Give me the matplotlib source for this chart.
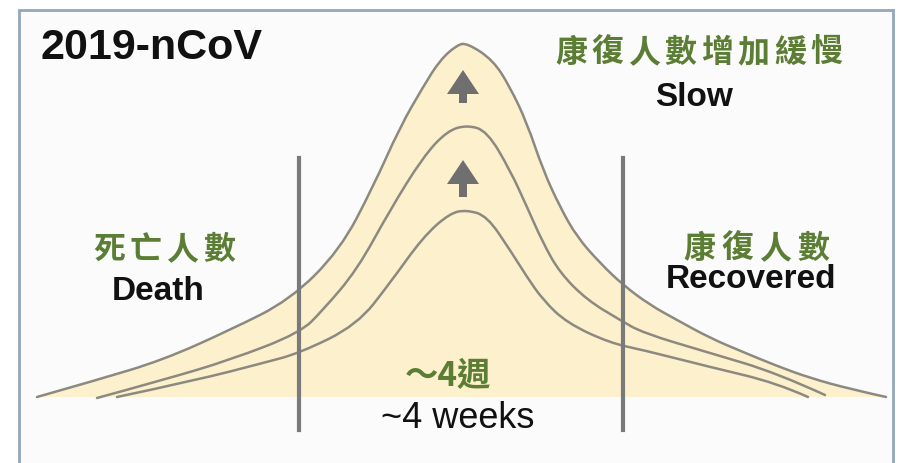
import matplotlib
matplotlib.use("Agg")
import numpy as np
from matplotlib import pyplot as plt
from matplotlib.patches import Rectangle, PathPatch
from matplotlib.path import Path

# curves (pixel coords, y grows downward)
outer_x = [37, 97, 163, 230, 290, 340, 373, 400, 423, 440, 457, 467, 493, 510, 527, 543,
           560, 577, 600, 623, 650, 677, 710, 743, 777, 810, 850, 886]
outer_y = [397, 380, 360, 330, 300, 250, 187, 127, 87, 60, 45, 43, 60, 87, 123, 170,
           207, 237, 263, 285, 305, 320, 338, 352, 366, 378, 389, 397]

middle_x = [97, 163, 230, 300, 323, 357, 390, 423, 447, 467, 487, 510, 527, 543, 560,
            587, 620, 643, 710, 777, 825]
middle_y = [398, 380, 360, 333, 310, 270, 210, 157, 131, 125, 131, 170, 207, 243, 273,
            300, 320, 333, 353, 373, 395]

inner_x = [117, 197, 263, 300, 357, 390, 423, 450, 467, 487, 510, 527, 543, 567, 610,
           643, 710, 777, 808]
inner_y = [397, 380, 363, 353, 325, 283, 237, 213, 210, 216, 250, 277, 300, 323, 343,
           350, 367, 383, 397]

BASE = 397
divider_x = [299, 623]
arrow_tips = [70, 160]
arrow_bases = [103, 197]

CJK = ['Noto Sans CJK TC', 'DejaVu Sans']
LAT = ['Liberation Sans', 'DejaVu Sans']
GREEN = '#5b7d34'
LINE = '#8c8a80'

fig = plt.figure(figsize=(9, 4.63), dpi=100)
ax = fig.add_axes([0, 0, 1, 1])
ax.set_xlim(0, 900)
ax.set_ylim(463, 0)
ax.axis('off')


def smooth_path(xs, ys, close_to=None):
    # quadratic bezier through midpoints, read points act as control points
    pts = np.column_stack([xs, ys]).astype(float)
    verts = [pts[0]]
    codes = [Path.MOVETO]
    for i in range(1, len(pts) - 1):
        mid = (pts[i] + pts[i + 1]) / 2 if i < len(pts) - 2 else pts[i + 1]
        verts += [pts[i], mid]
        codes += [Path.CURVE3, Path.CURVE3]
    if close_to is not None:
        verts += [[xs[-1], close_to], [xs[0], close_to], pts[0]]
        codes += [Path.LINETO, Path.LINETO, Path.CLOSEPOLY]
    return Path(verts, codes)


# frame
ax.add_patch(Rectangle((19, 10), 874, 470, facecolor='#fbfbfb', edgecolor='#93a6ba', lw=2, zorder=0))

ax.add_patch(PathPatch(smooth_path(outer_x, outer_y, close_to=BASE), facecolor='#fdf0cc', lw=0, zorder=1))
for xs, ys in [(outer_x, outer_y), (middle_x, middle_y), (inner_x, inner_y)]:
    ax.add_patch(PathPatch(smooth_path(xs, ys), facecolor='none', edgecolor=LINE, lw=1.8,
                           capstyle='round', zorder=2))

for x in divider_x:
    ax.plot([x, x], [158, 430], color='#7a7a7a', lw=3, zorder=3)

for tip, base in zip(arrow_tips, arrow_bases):
    ax.arrow(463, base, 0, tip - base, width=8, head_width=32, head_length=24,
             length_includes_head=True, color='#6f6f6f', lw=0, zorder=3)


def spaced(x0, y, s, pitch, size):
    for i, ch in enumerate(s):
        ax.text(x0 + i * pitch, y, ch, family=CJK, fontweight='heavy', fontsize=size,
                color=GREEN, ha='center', va='center')


ax.text(40, 48, '2019-nCoV', family=LAT, fontweight='bold', fontsize=31, ha='left', va='center', color='#111111')

spaced(571, 53, '康復人數增加緩慢', 36.5, 23)
ax.text(694, 98, 'Slow', family=LAT, fontweight='bold', fontsize=24, ha='center', va='center', color='#111111')

spaced(109, 250, '死亡人數', 36.7, 23)
ax.text(158, 292, 'Death', family=LAT, fontweight='bold', fontsize=24, ha='center', va='center', color='#111111')

spaced(699, 249, '康復人數', 38, 23)
ax.text(751, 280, 'Recovered', family=LAT, fontweight='bold', fontsize=24, ha='center', va='center', color='#111111')

ax.text(448, 377, '～4週', family=CJK, fontweight='heavy', fontsize=24, ha='center', va='center', color=GREEN)
ax.text(458, 418, '~4 weeks', family=LAT, fontsize=26, ha='center', va='center', color='#111111')

fig.savefig('out.png', dpi=100, facecolor='white')
